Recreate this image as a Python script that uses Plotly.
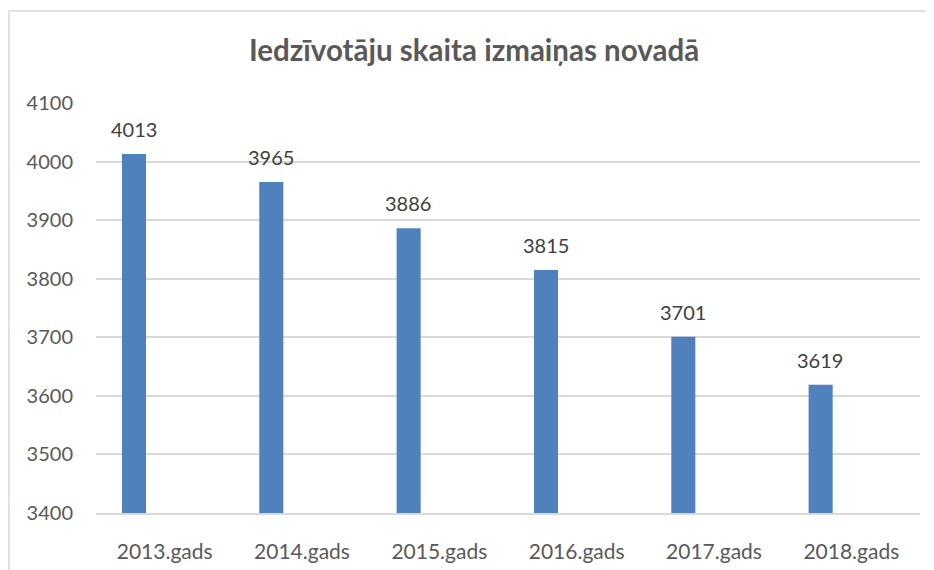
import plotly.graph_objects as go

years = ['2013.gads', '2014.gads', '2015.gads', '2016.gads', '2017.gads', '2018.gads']
residents = [4013, 3965, 3886, 3815, 3701, 3619]

title_text = 'Iedzīvotāju skaita izmaiņas novadā'
bar_color = '#4F81BD'
font_name = 'Lato'

fig = go.Figure()
fig.add_trace(go.Bar(
    x=years,
    y=residents,
    marker=dict(color=bar_color, line=dict(width=0)),
    offset=-0.311,
    width=0.175,
    hoverinfo='x+y',
))

# data labels above the bars
for yr, val in zip(years, residents):
    fig.add_annotation(
        x=yr, y=val, text=str(val),
        xref='x', yref='y',
        showarrow=False,
        xshift=-31, yshift=25,
        font=dict(family=font_name, size=20, color='#404040'),
    )

# stray document text cut off above the chart
fig.add_annotation(
    x=-0.119, y=1.2171, xref='paper', yref='paper',
    xanchor='left', yanchor='bottom',
    text='latres.', showarrow=False,
    font=dict(family='Liberation Serif', size=21, color='#000000'),
)

# chart frame (only the left and top edges are visible)
fig.add_shape(
    type='rect', xref='paper', yref='paper',
    x0=-0.1056, x1=1.05, y0=-0.2, y1=1.2244,
    line=dict(color='#D9D9D9', width=1.5),
    fillcolor='rgba(0,0,0,0)', layer='below',
)

fig.update_layout(
    width=934, height=570,
    margin=dict(l=88, r=22, t=95, b=65, autoexpand=False),
    paper_bgcolor='white', plot_bgcolor='white',
    showlegend=False,
    title=dict(
        text=title_text, x=0.499, xanchor='center', y=0.9246, yanchor='middle',
        automargin=False,
        font=dict(family=font_name, size=29.5, color='#595959', weight='bold'),
    ),
    font=dict(family=font_name, size=20, color='#595959'),
)
fig.update_yaxes(
    range=[3400, 4100], dtick=100,
    showgrid=True, gridcolor='#D9D9D9', gridwidth=1.5,
    zeroline=False, showline=False, automargin=False,
    ticklabelstandoff=22,
    tickfont=dict(family=font_name, size=20, color='#595959'),
)
fig.update_xaxes(
    showline=True, linecolor='#D9D9D9', linewidth=1.5, automargin=False,
    ticklabelstandoff=19,
    tickfont=dict(family=font_name, size=21, color='#595959'),
)

fig.write_html('out.html')
